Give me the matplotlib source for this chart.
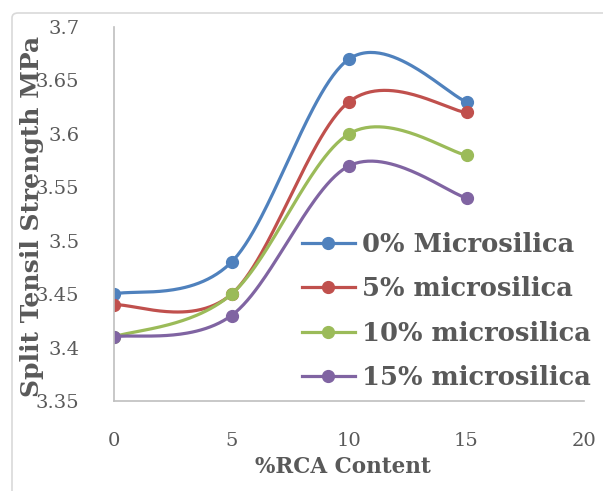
import numpy as np
import matplotlib
matplotlib.use("Agg")
import matplotlib.pyplot as plt
from matplotlib.patches import FancyBboxPatch

rca = [0, 5, 10, 15]
series_names = ["0% Microsilica", "5% microsilica", "10% microsilica", "15% microsilica"]
s0 = [3.45, 3.48, 3.67, 3.63]
s5 = [3.44, 3.45, 3.63, 3.62]
s10 = [3.41, 3.45, 3.60, 3.58]
s15 = [3.41, 3.43, 3.57, 3.54]
colors = ["#4F81BD", "#C0504D", "#9BBB59", "#8064A2"]
x_ticks = [0, 5, 10, 15, 20]
y_ticks = [3.35, 3.4, 3.45, 3.5, 3.55, 3.6, 3.65, 3.7]


def smooth(x, y, n=60):
    # Excel-like smoothing: Catmull-Rom style cubic Bezier segments
    P = np.column_stack([x, y]).astype(float)
    m = len(P)
    xs, ys = [], []
    t = np.linspace(0, 1, n)
    for i in range(m - 1):
        p0 = P[i]
        p3 = P[i + 1]
        pm = P[i - 1] if i > 0 else P[i]
        pp = P[i + 2] if i + 2 < m else P[i + 1]
        c1 = p0 + (p3 - pm) / 6.0
        c2 = p3 - (pp - p0) / 6.0
        b = ((1 - t) ** 3)[:, None] * p0 + (3 * (1 - t) ** 2 * t)[:, None] * c1 \
            + (3 * (1 - t) * t ** 2)[:, None] * c2 + (t ** 3)[:, None] * p3
        xs.append(b[:, 0])
        ys.append(b[:, 1])
    return np.concatenate(xs), np.concatenate(ys)


plt.rcParams["font.family"] = ["DejaVu Serif"]
fig = plt.figure(figsize=(6.03, 4.91), dpi=100)
fig.patches.append(FancyBboxPatch((12 / 603, -0.05), 1.0, 1.0 - 13 / 491 + 0.05,
                                  boxstyle="round,pad=0,rounding_size=0.01",
                                  transform=fig.transFigure, fill=False,
                                  edgecolor="#D9D9D9", linewidth=1.2))
ax = fig.add_axes([114 / 603, 1 - 401 / 491, (584 - 114) / 603, (401 - 27) / 491])

for name, ys, c in zip(series_names, [s0, s5, s10, s15], colors):
    sx, sy = smooth(rca, ys)
    ax.plot(sx, sy, color=c, lw=2.3, solid_capstyle="round")
    ax.plot(rca, ys, "o", color=c, ms=8.5)
    ax.plot([], [], color=c, lw=2.3, marker="o", ms=8.5, label=name)

ax.set_xlim(0, 20)
ax.set_ylim(3.35, 3.7)
ax.set_xticks(x_ticks)
ax.set_yticks(y_ticks)
ax.set_yticklabels([f"{v:g}" for v in y_ticks])
ax.tick_params(length=0, labelsize=14, colors="#595959")
ax.tick_params(axis="x", pad=22)
ax.tick_params(axis="y", pad=25)
for s in ["top", "right"]:
    ax.spines[s].set_visible(False)
for s in ["left", "bottom"]:
    ax.spines[s].set_color("#BFBFBF")
    ax.spines[s].set_linewidth(1.2)

fig.text(32 / 603, 1 - 216 / 491, "Split Tensil Strength MPa", rotation=90,
         ha="center", va="center", fontsize=18, fontweight="bold", color="#595959")
fig.text(343 / 603, 1 - 467 / 491, "%RCA Content", ha="center", va="center",
         fontsize=15.5, fontweight="bold", color="#595959")

leg = ax.legend(loc="center left", bbox_to_anchor=(0.4, 0.2406), frameon=False,
                prop={"size": 18.5, "weight": "bold"}, handlelength=2.06,
                handletextpad=0.27, labelspacing=0.76, borderaxespad=0, borderpad=0)
for t in leg.get_texts():
    t.set_color("#595959")

fig.savefig("out.png", dpi=100)
